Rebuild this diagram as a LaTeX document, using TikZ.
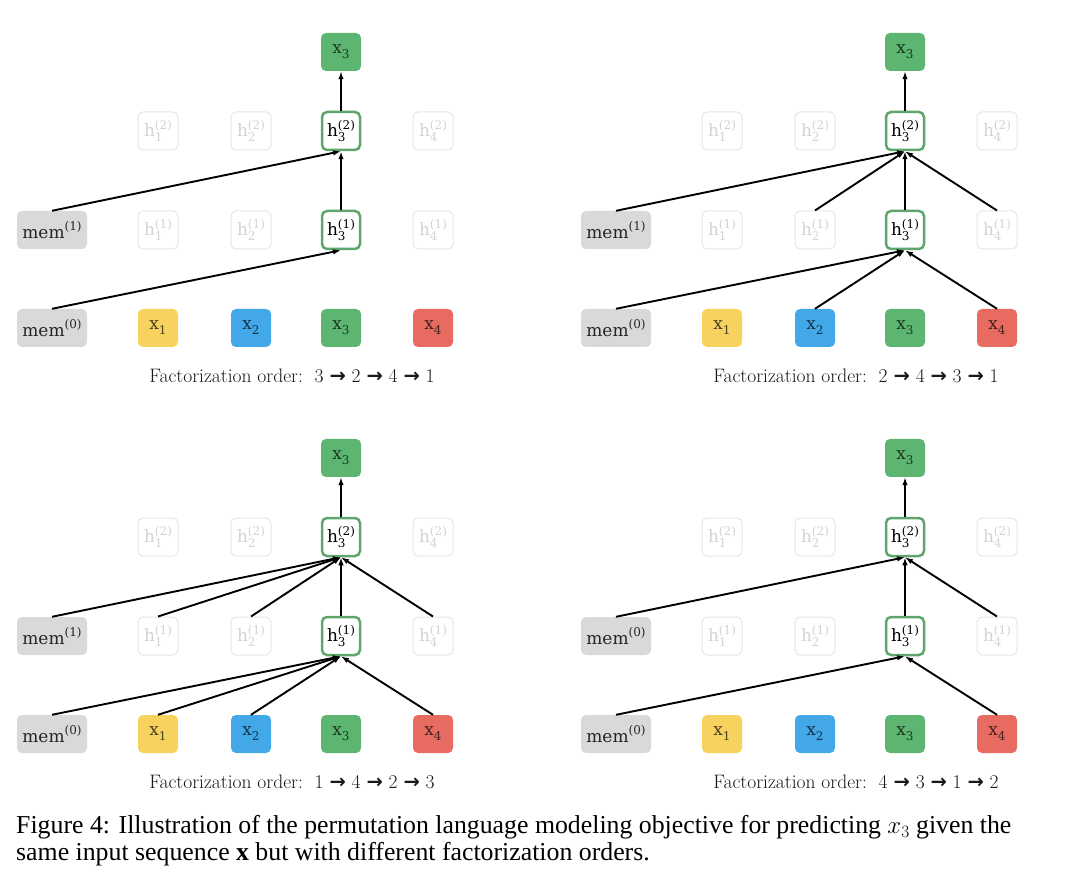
\documentclass[tikz,border=0pt]{standalone}
\usepackage{fontspec}
\usetikzlibrary{arrows.meta}
\newfontfamily\labfont{DejaVu Serif}
\newfontfamily\capfont{Liberation Serif}
\newfontfamily\arrfont{DejaVu Sans}

\definecolor{cyel}{HTML}{F7D25F}
\definecolor{cblu}{HTML}{42A8E8}
\definecolor{cgrn}{HTML}{5CB671}
\definecolor{cred}{HTML}{E86B62}
\definecolor{cmem}{HTML}{D9D9D9}
\definecolor{cact}{HTML}{5FA66D}
\definecolor{cfnt}{HTML}{E6E6E6}
\definecolor{cfnttext}{HTML}{D3D3D3}

\newcommand\subs[1]{\raisebox{-0.3em}{\fontsize{12}{12}\selectfont #1}}
\newcommand\sups[1]{\raisebox{0.45em}{\fontsize{12}{12}\selectfont #1}}
\newcommand\xl[1]{x\subs{#1}}
\newcommand\hl[2]{h\rlap{\subs{#1}}\sups{(#2)}}
\newcommand\meml[1]{mem\sups{(#1)}}
\newcommand\oarr{\hspace{0.3em}{\arrfont\bfseries →}\hspace{0.3em}}

\tikzset{
  box/.style={rounded corners=5pt, minimum width=40pt, minimum height=38pt,
    inner sep=0pt, font=\labfont\fontsize{17}{17}\selectfont},
  xbox/.style={box, fill=#1, draw=none, text=#1!30!black},
  membox/.style={box, fill=cmem, minimum width=70pt, text=black!85},
  hact/.style={box, fill=white, draw=cact, line width=2.5pt,
    minimum width=38pt, minimum height=38pt, text=black},
  hfnt/.style={box, draw=cfnt, line width=1pt, text=cfnttext},
  arr/.style={line width=1.9pt, -{Latex[length=8pt,width=5.5pt]}},
  ord/.style={font=\fontsize{19.5}{19.5}\selectfont, text=black!90, inner sep=0pt},
}

\newcommand\panel[5]{%
  \begin{scope}[shift={(#2,#3)}]
    \node[xbox=cgrn] (#1-top) at (341,52) {\xl{3}};
    \node[hfnt] (#1-h21) at (158,131) {\hl{1}{2}};
    \node[hfnt] (#1-h22) at (251,131) {\hl{2}{2}};
    \node[hact] (#1-h23) at (341,131) {\hl{3}{2}};
    \node[hfnt] (#1-h24) at (433,131) {\hl{4}{2}};
    \node[membox] (#1-m1) at (52,230) {\meml{#4}};
    \node[hfnt] (#1-h11) at (158,230) {\hl{1}{1}};
    \node[hfnt] (#1-h12) at (251,230) {\hl{2}{1}};
    \node[hact] (#1-h13) at (341,230) {\hl{3}{1}};
    \node[hfnt] (#1-h14) at (433,230) {\hl{4}{1}};
    \node[membox] (#1-m0) at (52,328) {\meml{0}};
    \node[xbox=cyel] (#1-x1) at (158,328) {\xl{1}};
    \node[xbox=cblu] (#1-x2) at (251,328) {\xl{2}};
    \node[xbox=cgrn] (#1-x3) at (341,328) {\xl{3}};
    \node[xbox=cred] (#1-x4) at (433,328) {\xl{4}};
    \node[ord] (#1-ord) at (292,376) {Factorization order:\hspace{0.2em} #5};
  \end{scope}}

\begin{document}
\begin{tikzpicture}[x=1pt,y=-1pt]
\useasboundingbox[fill=white] (0,0) rectangle (1080,877);

\panel{A}{0}{0}{1}{3\oarr 2\oarr 4\oarr 1}
\panel{B}{564}{0}{1}{2\oarr 4\oarr 3\oarr 1}
\panel{C}{0}{406}{1}{1\oarr 4\oarr 2\oarr 3}
\panel{D}{564}{406}{0}{4\oarr 3\oarr 1\oarr 2}

% panel A
\draw[arr] (A-h23.north) -- (A-top.south);
\draw[arr] (A-m1.north) -- (A-h23.south);
\draw[arr] (A-h13.north) -- (A-h23.south);
\draw[arr] (A-m0.north) -- (A-h13.south);

% panel B
\draw[arr] (B-h23.north) -- (B-top.south);
\draw[arr] (B-m1.north) -- (B-h23.south);
\draw[arr] (B-h12.north) -- (B-h23.south);
\draw[arr] (B-h13.north) -- (B-h23.south);
\draw[arr] (B-h14.north) -- (B-h23.south);
\draw[arr] (B-m0.north) -- (B-h13.south);
\draw[arr] (B-x2.north) -- (B-h13.south);
\draw[arr] (B-x4.north) -- (B-h13.south);

% panel C
\draw[arr] (C-h23.north) -- (C-top.south);
\draw[arr] (C-m1.north) -- (C-h23.south);
\draw[arr] (C-h11.north) -- (C-h23.south);
\draw[arr] (C-h12.north) -- (C-h23.south);
\draw[arr] (C-h13.north) -- (C-h23.south);
\draw[arr] (C-h14.north) -- (C-h23.south);
\draw[arr] (C-m0.north) -- (C-h13.south);
\draw[arr] (C-x1.north) -- (C-h13.south);
\draw[arr] (C-x2.north) -- (C-h13.south);
\draw[arr] (C-x4.north) -- (C-h13.south);

% panel D
\draw[arr] (D-h23.north) -- (D-top.south);
\draw[arr] (D-m1.north) -- (D-h23.south);
\draw[arr] (D-h13.north) -- (D-h23.south);
\draw[arr] (D-h14.north) -- (D-h23.south);
\draw[arr] (D-m0.north) -- (D-h13.south);
\draw[arr] (D-x4.north) -- (D-h13.south);

\node[anchor=north west, align=left, inner sep=0pt,
      font=\capfont\fontsize{25.8}{27}\selectfont] (cap) at (16,815)
  {Figure 4: Illustration of the permutation language modeling objective for predicting $x_3$ given the\\
   same input sequence \textbf{x} but with different factorization orders.};
\end{tikzpicture}
\end{document}
